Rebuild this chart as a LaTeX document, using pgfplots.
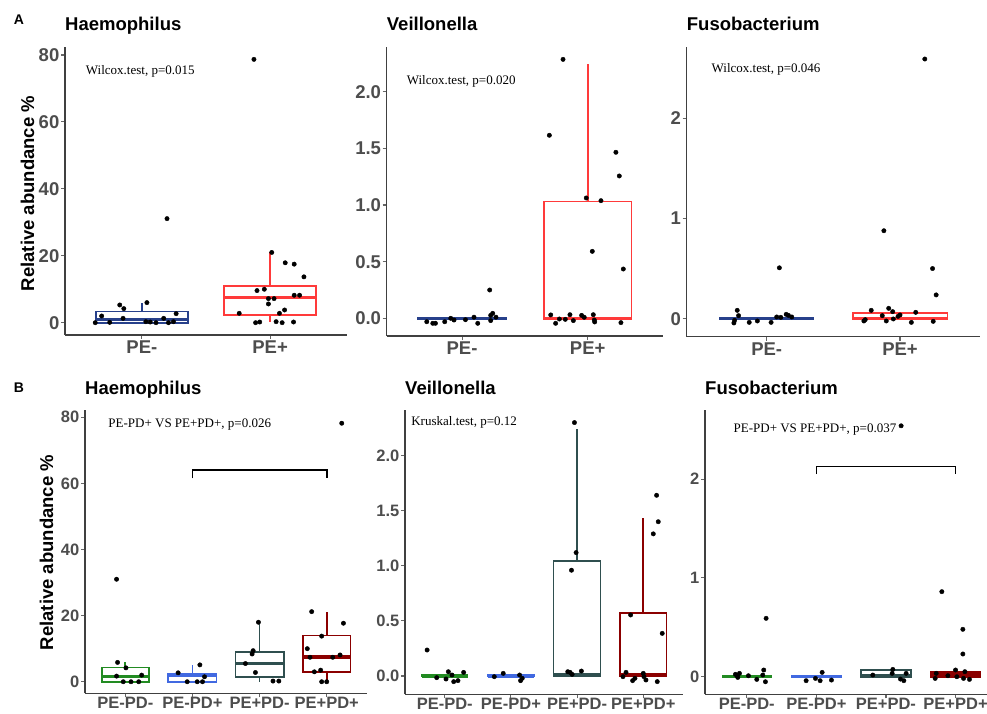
\documentclass[border=0pt]{standalone}
\usepackage{fontspec}
\setmainfont{Liberation Sans}
\newfontfamily\serifff{Liberation Serif}
\usepackage{pgfplots}
\pgfplotsset{compat=1.18}

\definecolor{aneg}{HTML}{27408B}
\definecolor{apos}{HTML}{FF3A3A}
\definecolor{bgA}{HTML}{228B22}
\definecolor{bgB}{HTML}{4169E1}
\definecolor{bgC}{HTML}{2F4F4F}
\definecolor{bgD}{HTML}{8B0000}
\definecolor{tickgray}{HTML}{4D4D4D}

\tikzset{note/.style={anchor=west, inner sep=0pt, font=\fontsize{13}{15}\selectfont\serifff}}

\pgfplotsset{
  panel/.style={
    scale only axis,
    axis lines=left,
    axis line style={-, line width=1.1pt, draw=black!75},
    tick style={line width=1.1pt, draw=black!60},
    tick align=outside,
    major tick length=4pt,
    /pgf/number format/assume math mode=true,
    clip=false,
    title style={at={(0,1)}, anchor=base west, yshift=10pt, inner sep=0pt, font=\fontsize{18.5}{20}\selectfont\bfseries},
    yticklabel style={inner sep=1.5pt},
    xticklabel style={inner sep=2pt},
  },
  rowA/.style={panel, xmin=0.4, xmax=2.6, xtick={1,2}, xticklabels={PE-,PE+},
    ticklabel style={font=\fontsize{18.5}{20}\selectfont\bfseries, text=tickgray}},
  rowB/.style={panel, xmin=0.4, xmax=4.6, xtick={1,2,3,4}, xticklabels={PE-PD-,PE-PD+,PE+PD-,PE+PD+},
    ticklabel style={font=\fontsize{16.5}{18}\selectfont\bfseries, text=tickgray},
    xticklabel style={yshift=2pt}},
  pts/.style={only marks, mark=*, mark size=2.2pt, black},
}

% box: color, position, half width, lower whisker, q1, median, q3, upper whisker
\newcommand{\bxp}[8]{%
  \pgfmathsetmacro\xl{#2-#3}\pgfmathsetmacro\xr{#2+#3}%
  \edef\tmp{%
    \noexpand\addplot[draw=#1, line width=1.7pt] coordinates {(#2,#4)(#2,#5)};
    \noexpand\addplot[draw=#1, line width=1.7pt] coordinates {(#2,#7)(#2,#8)};
    \noexpand\addplot[draw=#1, fill=white, line width=1.7pt, line join=miter, line cap=rect] coordinates {(\xl,#5)(\xr,#5)(\xr,#7)(\xl,#7)(\xl,#5)};
    \noexpand\addplot[draw=#1, line width=3.4pt] coordinates {(\xl,#6)(\xr,#6)};
  }\tmp}

\begin{document}
\begin{tikzpicture}
\useasboundingbox (0,0) rectangle (987pt,713pt);

\node[font=\fontsize{14}{16}\selectfont\bfseries] at (19pt,693pt) {A};
\node[font=\fontsize{14}{16}\selectfont\bfseries] at (19pt,325pt) {B};
\node[rotate=90, font=\fontsize{18.5}{20}\selectfont\bfseries] at (27.5pt,519.5pt) {Relative abundance \%};
\node[rotate=90, font=\fontsize{18.5}{20}\selectfont\bfseries] at (46.5pt,160.5pt) {Relative abundance \%};

% ---------------- A1 Haemophilus
\begin{axis}[rowA, at={(65pt,378pt)}, anchor=south west, width=282pt, height=288pt,
  ymin=-3.68, ymax=82.4, ytick={0,20,40,60,80}, title={Haemophilus}]
\bxp{aneg}{1}{0.36}{0}{0}{1.0}{3.3}{5.8}
\bxp{apos}{2}{0.36}{0.3}{2.2}{7.6}{11.0}{21.2}
\addplot[pts] coordinates {
(0.636,0)(0.686,2.0)(0.749,0.1)(0.827,5.3)(0.859,4.2)(0.853,1.3)(1.039,6.0)(1.031,0.3)
(1.065,0.2)(1.11,0)(1.17,1.3)(1.196,31.1)(1.207,0)(1.246,0.3)(1.267,2.7)};
\addplot[pts] coordinates {
(1.874,78.7)(2.013,21.0)(2.118,17.9)(2.188,17.5)(2.264,13.7)(1.759,2.8)(1.898,9.6)(1.955,10.0)
(1.987,7.2)(1.987,5.6)(2.031,7.2)(2.188,8.2)(2.23,8.2)(2.073,2.8)(2.113,3.8)(1.887,0)
(1.919,0.2)(2.047,0.3)(2.094,0)(2.183,0.2)};
\node[note] at (axis cs:0.562,75.2) {Wilcox.test, p=0.015};
\end{axis}

% ---------------- A2 Veillonella
\begin{axis}[rowA, at={(386.7pt,377pt)}, anchor=south west, width=276.3pt, height=289pt,
  ymin=-0.156, ymax=2.394, ytick={0,0.5,1,1.5,2},
  yticklabel style={/pgf/number format/.cd, fixed, fixed zerofill, precision=1},
  title={Veillonella}]
\bxp{aneg}{1}{0.35}{0}{-0.004}{0}{0.008}{0.008}
\bxp{apos}{2}{0.35}{-0.01}{-0.01}{0}{1.03}{2.244}
\addplot[pts] coordinates {
(0.719,-0.03)(0.767,-0.044)(0.788,-0.044)(0.862,-0.03)(0.91,0)(0.936,-0.015)(1.027,-0.012)
(1.095,0.01)(1.125,-0.044)(1.22,0.25)(1.228,0.026)(1.244,0.044)(1.228,-0.02)(1.27,0.01)};
\addplot[pts] coordinates {
(1.804,2.285)(1.695,1.615)(2.225,1.465)(2.252,1.256)(1.989,1.062)(2.106,1.038)(2.037,0.591)
(2.284,0.435)(1.706,0.03)(1.745,-0.044)(1.775,-0.006)(1.822,-0.009)(1.859,0.032)(1.886,-0.02)
(1.952,0.026)(1.973,0.009)(2.045,0.032)(2.053,-0.015)(2.056,-0.032)(2.265,-0.038)};
\node[note] at (axis cs:0.559,2.094) {Wilcox.test, p=0.020};
\end{axis}

% ---------------- A3 Fusobacterium
\begin{axis}[rowA, at={(686.7pt,376.3pt)}, anchor=south west, width=293.3pt, height=289.7pt,
  ymin=-0.18, ymax=2.71, ytick={0,1,2}, title={Fusobacterium}]
\bxp{aneg}{1}{0.35}{0}{-0.004}{0}{0.008}{0.008}
\bxp{apos}{2}{0.355}{0}{-0.004}{0.002}{0.055}{0.06}
\addplot[pts] coordinates {
(0.754,-0.043)(0.759,-0.017)(0.779,0.083)(0.789,0.03)(0.869,-0.037)(0.93,-0.023)(1.033,-0.037)
(1.075,0.017)(1.095,0.507)(1.106,0.013)(1.146,0.043)(1.163,0.033)(1.188,0.017)};
\addplot[pts] coordinates {
(2.186,2.59)(1.879,0.877)(2.244,0.5)(2.271,0.237)(1.729,-0.023)(1.739,-0.01)(1.784,0.083)
(1.867,0.03)(1.897,-0.023)(1.915,0.103)(1.945,0.07)(1.95,-0.003)(1.985,0.023)(2.0,0.037)
(2.085,-0.037)(2.118,0.063)(2.249,-0.027)};
\node[note] at (axis cs:0.586,2.49) {Wilcox.test, p=0.046};
\end{axis}

% ---------------- B1 Haemophilus
\begin{axis}[rowB, at={(85pt,19.7pt)}, anchor=south west, width=282pt, height=283.3pt,
  ymin=-3.5, ymax=82.2, ytick={0,20,40,60,80}, title={Haemophilus}]
\bxp{bgA}{1}{0.35}{0}{0}{1.6}{4.3}{5.85}
\bxp{bgB}{2}{0.36}{0}{0}{1.8}{2.5}{5.0}
\bxp{bgC}{3}{0.36}{0}{1.4}{5.6}{8.9}{18.0}
\bxp{bgD}{4}{0.355}{0}{3.0}{7.5}{14.0}{21.0}
\addplot[pts] coordinates {
(0.87,31.0)(0.885,5.85)(1.01,4.2)(0.87,1.7)(0.97,0)(1.085,0)(1.2,0)(1.244,2.0)
(1.787,2.7)(1.922,0)(2.111,5.1)(2.071,0)(2.15,0)(2.18,1.5)
(2.983,18.0)(2.904,9.4)(2.889,8.4)(2.789,5.5)(2.938,2.8)(3.2,0.2)(3.287,0.2)
(4.224,78.2)(3.776,21.2)(4.249,17.7)(3.925,13.8)(3.711,10.0)(3.751,7.4)(4.09,7.4)(4.199,8.1)
(3.816,3.0)(3.91,3.5)(3.925,0)(4.0,0)};
\addplot[black, line width=1.6pt] coordinates {(2,61.5)(2,64.1)(4,64.1)(4,61.5)};
\node[note] at (axis cs:0.746,77.9) {PE-PD+ VS PE+PD+, p=0.026};
\end{axis}

% ---------------- B2 Veillonella
\begin{axis}[rowB, at={(405pt,18.7pt)}, anchor=south west, width=278pt, height=284.3pt,
  ymin=-0.166, ymax=2.414, ytick={0,0.5,1,1.5,2},
  yticklabel style={/pgf/number format/.cd, fixed, fixed zerofill, precision=1},
  title={Veillonella}]
\bxp{bgA}{1}{0.345}{0}{-0.004}{0}{0.008}{0.008}
\bxp{bgB}{2}{0.35}{0}{-0.004}{0}{0.008}{0.008}
\bxp{bgC}{3}{0.355}{0}{0}{0.008}{1.044}{2.242}
\bxp{bgD}{4}{0.35}{0}{0}{0.008}{0.575}{1.431}
\addplot[pts] coordinates {
(0.734,0.236)(0.879,-0.015)(1.02,-0.027)(1.055,0.039)(1.11,0.009)(1.136,-0.051)(1.2,-0.042)(1.286,0.033)
(1.749,-0.006)(1.884,0.024)(2.131,0.009)(2.146,-0.042)(2.171,-0.021)
(2.96,2.3)(2.985,1.12)(2.915,0.96)(2.859,0.039)(2.894,0.033)(2.925,0.015)(3.065,0.045)
(4.201,1.64)(4.226,1.40)(4.151,1.29)(3.809,0.554)(4.286,0.387)(3.739,0.033)(3.693,-0.006)
(3.839,-0.042)(3.874,-0.021)(4.0,0.024)(4.01,-0.006)(4.04,-0.036)(4.211,-0.051)};
\node[note] at (axis cs:0.493,2.3) {Kruskal.test, p=0.12};
\end{axis}

% ---------------- B3 Fusobacterium
\begin{axis}[rowB, at={(705pt,18.7pt)}, anchor=south west, width=292.3pt, height=284.3pt,
  ymin=-0.178, ymax=2.70, ytick={0,1,2}, title={Fusobacterium}]
\bxp{bgA}{1}{0.35}{0}{-0.004}{0}{0.008}{0.008}
\bxp{bgB}{2}{0.35}{0}{-0.004}{0}{0.008}{0.008}
\bxp{bgC}{3}{0.355}{0}{0}{0.01}{0.065}{0.074}
\bxp{bgD}{4}{0.36}{0}{0}{0.02}{0.05}{0.068}
\addplot[pts] coordinates {
(1.278,0.591)(1.244,0.068)(1.23,0.017)(1.268,-0.051)(1.144,-0.027)(1.024,0.01)(0.895,0.034)(0.861,0.01)(0.837,0.024)(0.871,-0.007)
(1.853,-0.04)(1.987,-0.017)(2.083,0.044)(2.054,-0.04)(2.217,-0.034)
(3.218,2.54)(2.811,0.017)(3.099,0.074)(3.089,0.034)(3.209,-0.024)(3.257,-0.04)(3.29,0.034)
(3.803,0.861)(4.105,0.48)(4.105,0.23)(3.722,0.034)(3.707,-0.017)(3.89,0.01)(4.0,0.068)
(4.019,0)(4.134,0.051)(4.115,-0.017)(4.2,-0.027)};
\addplot[black, line width=1.6pt] coordinates {(2,2.05)(2,2.128)(4,2.128)(4,2.05)};
\node[note] at (axis cs:0.809,2.5) {PE-PD+ VS PE+PD+, p=0.037};
\end{axis}
\end{tikzpicture}
\end{document}
